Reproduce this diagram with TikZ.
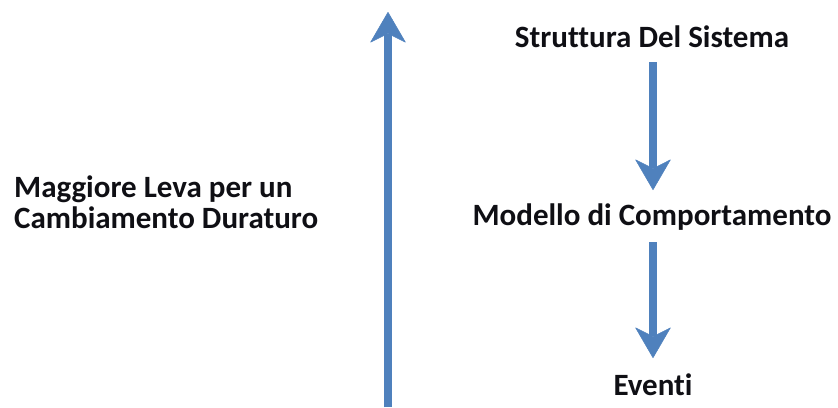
\documentclass[tikz,border=0pt]{standalone}
\usepackage{fontspec}
\setmainfont{Carlito}[Ligatures={NoCommon}]
\usetikzlibrary{arrows.meta}
\definecolor{arrowblue}{RGB}{79,129,189}
\definecolor{textcol}{RGB}{15,15,20}
\begin{document}
\begin{tikzpicture}[x=1bp,y=-1bp,
  lbl/.style={font=\fontsize{31bp}{31bp}\selectfont\bfseries, text=textcol, inner sep=0pt},
  bluearrow/.style={draw=arrowblue, line width=8.5bp,
    -{Stealth[length=31bp,width=36bp,inset=9bp,line width=0.5bp,round]}}]
\useasboundingbox (0,0) rectangle (838,407);
% texts
\node[lbl, anchor=base] (sistema) at (652,47) {Struttura Del Sistema};
\node[lbl, anchor=base] (modello) at (652,225) {Modello di Comportamento};
\node[lbl, anchor=base] (eventi) at (653,395) {Eventi};
\node[lbl, anchor=base west] (leva1) at (14,197) {Maggiore Leva per un};
\node[lbl, anchor=base west] (leva2) at (14,228) {Cambiamento Duraturo};
% big arrow
\coordinate (bigbottom) at (388,407);
\coordinate (bigtop) at (388,12);
\draw[bluearrow] (bigbottom) -- (bigtop);
% small arrows
\coordinate (a1s) at (653,62);
\coordinate (a1e) at (653,190);
\coordinate (a2s) at (653,242);
\coordinate (a2e) at (653,358);
\draw[bluearrow] (a1s) -- (a1e);
\draw[bluearrow] (a2s) -- (a2e);
\end{tikzpicture}
\end{document}
